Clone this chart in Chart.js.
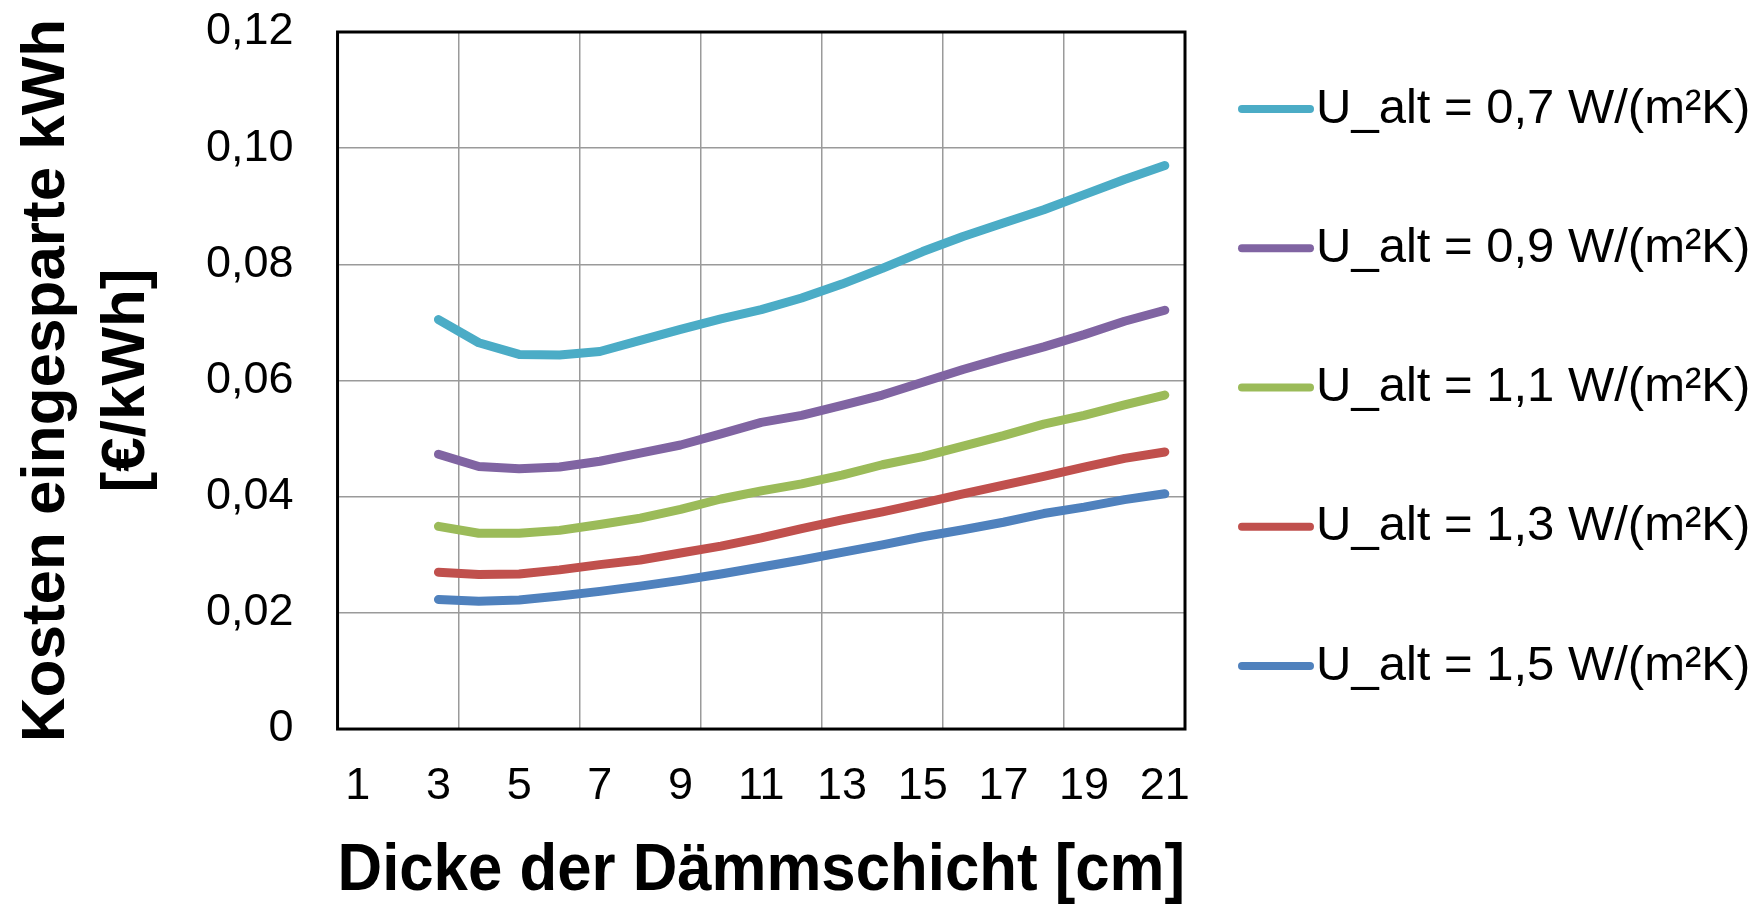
<!DOCTYPE html>
<html>
<head>
<meta charset="utf-8">
<title>Kosten eingesparte kWh</title>
<script src="https://cdn.jsdelivr.net/npm/chart.js@4.4.1/dist/chart.umd.min.js"></script>
<style>
  html, body { margin: 0; padding: 0; background: #fff; }
  #wrap { width: 1764px; height: 906px; }
</style>
</head>
<body>
<div id="wrap"><canvas id="chart" width="1764" height="906"></canvas></div>
<script>
// Dicke der Dämmschicht in cm (category axis, data starts at 3 cm)
var thickness = ["1", "2", "3", "4", "5", "6", "7", "8", "9", "10", "11",
    "12", "13", "14", "15", "16", "17", "18", "19", "20", "21"];

// Kosten je eingesparte kWh [€/kWh], one array per U_alt
var u07 = [null, null, 0.0705, 0.0665, 0.0645, 0.0644, 0.0650, 0.0669, 0.0688, 0.0706, 0.0722,
    0.0742, 0.0766, 0.0793, 0.0822, 0.0848, 0.0871, 0.0894, 0.0920, 0.0946, 0.0970];
var u09 = [null, null, 0.0473, 0.0452, 0.0448, 0.0451, 0.0461, 0.0475, 0.0489, 0.0508, 0.0528,
    0.0540, 0.0557, 0.0575, 0.0597, 0.0619, 0.0639, 0.0658, 0.0679, 0.0702, 0.0721];
var u11 = [null, null, 0.0349, 0.0337, 0.0337, 0.0342, 0.0352, 0.0363, 0.0378, 0.0396, 0.0410,
    0.0422, 0.0437, 0.0455, 0.0469, 0.0487, 0.0505, 0.0525, 0.0540, 0.0558, 0.0575];
var u13 = [null, null, 0.0270, 0.0266, 0.0267, 0.0274, 0.0283, 0.0291, 0.0303, 0.0315, 0.0329,
    0.0345, 0.0360, 0.0374, 0.0389, 0.0405, 0.0420, 0.0435, 0.0451, 0.0466, 0.0477];
var u15 = [null, null, 0.0223, 0.0220, 0.0222, 0.0229, 0.0237, 0.0246, 0.0256, 0.0267, 0.0279,
    0.0291, 0.0304, 0.0317, 0.0331, 0.0343, 0.0356, 0.0371, 0.0382, 0.0395, 0.0405];

var seriesNames = ["U_alt = 0,7 W/(m²K)", "U_alt = 0,9 W/(m²K)", "U_alt = 1,1 W/(m²K)",
    "U_alt = 1,3 W/(m²K)", "U_alt = 1,5 W/(m²K)"];
var seriesColors = ["#4BACC6", "#8064A2", "#9BBB59", "#C0504D", "#4F81BD"];
var yTickLabels = ["0", "0,02", "0,04", "0,06", "0,08", "0,10", "0,12"];

var fontFamily = '"Liberation Sans", Arial, sans-serif';

// legend on the right, line sample glued to the text like in Excel
var sideLegend = {
    id: 'sideLegend',
    afterDraw: function(chart) {
        var ctx = chart.ctx;
        ctx.save();
        ctx.font = '49px ' + fontFamily;
        ctx.textBaseline = 'middle';
        ctx.fillStyle = '#000';
        chart.data.datasets.forEach(function(ds, i) {
            var y = 109 + i * 139.25;
            ctx.strokeStyle = ds.borderColor;
            ctx.lineWidth = 8;
            ctx.lineCap = 'round';
            ctx.beginPath();
            ctx.moveTo(1242, y);
            ctx.lineTo(1310, y);
            ctx.stroke();
            ctx.fillText(ds.label, 1316, y);
        });
        ctx.restore();
    }
};

// black box round the plot area
var plotFrame = {
    id: 'plotFrame',
    afterDatasetsDraw: function(chart) {
        var a = chart.chartArea;
        var ctx = chart.ctx;
        ctx.save();
        ctx.strokeStyle = '#000';
        ctx.lineWidth = 3;
        ctx.strokeRect(a.left, a.top, a.right - a.left, a.bottom - a.top);
        ctx.restore();
    }
};

var allSeries = [u07, u09, u11, u13, u15];
var datasets = allSeries.map(function(values, i) {
    return {
        label: seriesNames[i],
        data: values,
        borderColor: seriesColors[i],
        backgroundColor: seriesColors[i],
        borderWidth: 9,
        borderCapStyle: 'round',
        borderJoinStyle: 'round',
        pointRadius: 0,
        tension: 0,
        fill: false
    };
});

var ctx = document.getElementById('chart').getContext('2d');
var myChart = new Chart(ctx, {
    type: 'line',
    data: {
        labels: thickness,
        datasets: datasets
    },
    plugins: [sideLegend, plotFrame],
    options: {
        responsive: false,
        animation: false,
        devicePixelRatio: 1,
        layout: {
            padding: { left: 0, top: 32, right: 579, bottom: 0 }
        },
        plugins: {
            legend: { display: false },
            tooltip: { enabled: false }
        },
        scales: {
            x: {
                offset: true,
                grid: {
                    offset: true,
                    drawTicks: true,
                    tickLength: 31,
                    tickColor: 'rgba(0,0,0,0)',
                    lineWidth: 1.5,
                    color: function(c) {
                        return c.index % 3 === 0 ? '#9a9a9a' : 'rgba(0,0,0,0)';
                    }
                },
                border: { display: false },
                ticks: {
                    autoSkip: false,
                    maxRotation: 0,
                    minRotation: 0,
                    padding: 0,
                    color: '#000',
                    font: { family: fontFamily, size: 45 },
                    callback: function(value, index) {
                        return index % 2 === 0 ? thickness[index] : '';
                    }
                },
                title: {
                    display: true,
                    text: 'Dicke der Dämmschicht [cm]',
                    color: '#000',
                    font: { family: fontFamily, size: 67, weight: 'bold', lineHeight: 0.91 },
                    padding: { top: 27, bottom: 4 }
                }
            },
            y: {
                min: 0,
                max: 0.12,
                grid: {
                    drawTicks: true,
                    tickLength: 44,
                    tickColor: 'rgba(0,0,0,0)',
                    lineWidth: 1.5,
                    color: '#9a9a9a'
                },
                border: { display: false },
                ticks: {
                    stepSize: 0.02,
                    padding: 0,
                    color: '#000',
                    font: { family: fontFamily, size: 45 },
                    callback: function(value, index) {
                        return yTickLabels[index];
                    }
                },
                title: {
                    display: true,
                    text: ['Kosten eingesparte kWh', '[€/kWh]'],
                    color: '#000',
                    font: { family: fontFamily, size: 62, weight: 'bold', lineHeight: 1.29 },
                    padding: { top: 7, bottom: 39 }
                }
            }
        }
    }
});
</script>
</body>
</html>
